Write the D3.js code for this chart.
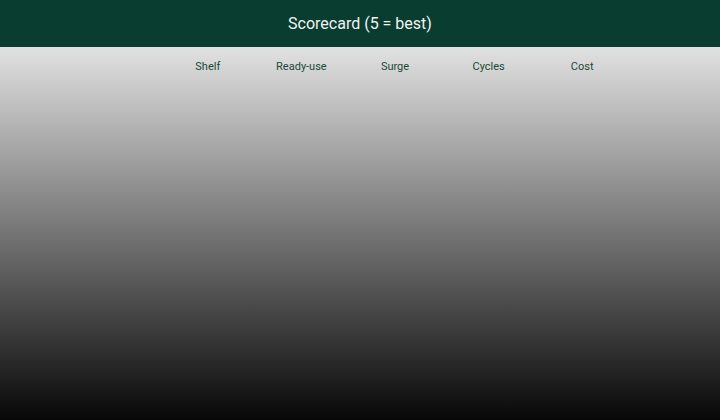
<!DOCTYPE html>
<html>
<head>
<meta charset="utf-8">
<script src="https://cdn.jsdelivr.net/npm/d3@7"></script>
<style>
  html, body { margin: 0; padding: 0; background: #fff; }
  svg { display: block; }
</style>
</head>
<body>
<svg id="chart" width="720" height="420"></svg>
<script>
const title = "Scorecard (5 = best)";
const criteria = ["Shelf", "Ready-use", "Surge", "Cycles", "Cost"];
const options = [];        // no rows shown in the reference
const scores = [];         // scores[row][criterion], none shown

const W = 720, H = 420, headerH = 47;
const svg = d3.select("#chart");

const defs = svg.append("defs");
const grad = defs.append("linearGradient")
  .attr("id", "bg").attr("x1", 0).attr("y1", 0).attr("x2", 0).attr("y2", 1);
grad.append("stop").attr("offset", "0%").attr("stop-color", "#fdfdfd");
grad.append("stop").attr("offset", "100%").attr("stop-color", "#070707");

svg.append("rect").attr("width", W).attr("height", H).attr("fill", "url(#bg)");

svg.append("rect").attr("width", W).attr("height", headerH).attr("fill", "#093d30");
svg.append("text")
  .attr("x", W / 2).attr("y", 25)
  .attr("text-anchor", "middle").attr("dominant-baseline", "middle")
  .attr("font-family", "Roboto, 'Noto Sans', sans-serif")
  .attr("font-size", 16)
  .attr("fill", "#f2f2f2")
  .text(title);

const x = d3.scaleBand().domain(criteria).range([161, 629]);
const y = d3.scaleBand().domain(options).range([80, H - 10]).padding(0.1);

svg.append("g").selectAll("text")
  .data(criteria).join("text")
  .attr("x", d => x(d) + x.bandwidth() / 2)
  .attr("y", 67)
  .attr("text-anchor", "middle").attr("dominant-baseline", "middle")
  .attr("font-family", "Roboto, 'Noto Sans', sans-serif")
  .attr("font-size", 11)
  .attr("fill", "#174a38")
  .text(d => d);

// score cells (empty in reference)
const color = d3.scaleLinear().domain([1, 5]).range(["#e8f0ec", "#093d30"]);
svg.append("g").selectAll("g")
  .data(scores).join("g")
  .attr("transform", (r, i) => `translate(0,${y(options[i])})`)
  .selectAll("rect")
  .data(r => r).join("rect")
  .attr("x", (v, j) => x(criteria[j]) + 4)
  .attr("width", x.bandwidth() - 8)
  .attr("height", y.bandwidth())
  .attr("fill", v => color(v));
</script>
</body>
</html>
